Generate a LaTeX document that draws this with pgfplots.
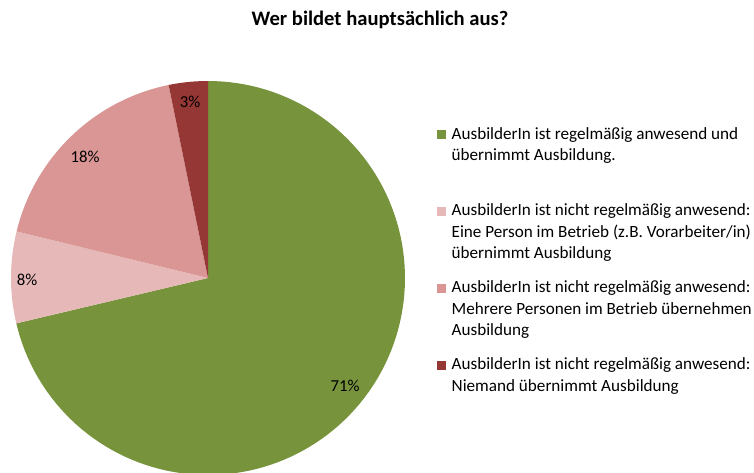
\documentclass[border=0pt]{standalone}
\usepackage{pgfplots}
\usepackage{pgfplotstable}
\pgfplotsset{compat=1.18}
\usepgfplotslibrary{polar}
\usepackage{fontspec}
\setmainfont{Carlito}
\definecolor{cGreen}{HTML}{77933C}
\definecolor{cLight}{HTML}{E6B9B8}
\definecolor{cMid}{HTML}{D99694}
\definecolor{cDark}{HTML}{953735}

\pgfplotstableread{
value
71.3
7.5
18.0
3.2
}\piedata

\pgfplotstablegetelem{0}{value}\of\piedata \let\vA\pgfplotsretval
\pgfplotstablegetelem{1}{value}\of\piedata \let\vB\pgfplotsretval
\pgfplotstablegetelem{2}{value}\of\piedata \let\vC\pgfplotsretval
\pgfplotstablegetelem{3}{value}\of\piedata \let\vD\pgfplotsretval
\pgfmathsetmacro\aA{90-3.6*\vA}
\pgfmathsetmacro\aB{\aA-3.6*\vB}
\pgfmathsetmacro\aC{\aB-3.6*\vC}
\pgfmathsetmacro\aD{\aC-3.6*\vD}

\newcommand\lfont{\fontsize{17.2}{20}\selectfont}
\newcommand\pfont{\fontsize{16.8}{20}\selectfont}

\begin{document}
\begin{tikzpicture}
\useasboundingbox (0,0) rectangle (754bp,473bp);
\clip (0,0) rectangle (754bp,473bp);
\begin{axis}[x=1bp,y=1bp,xmin=-208,xmax=546,ymin=-195,ymax=278,
  hide axis, at={(0,0)}, anchor=south west, clip=true]
\addplot[fill=cGreen, draw=none, data cs=polar, domain=\aA:90, samples=120] (x,197) -- (0,0) -- cycle;
\addplot[fill=cLight, draw=none, data cs=polar, domain=\aB:\aA, samples=30] (x,197) -- (0,0) -- cycle;
\addplot[fill=cMid, draw=none, data cs=polar, domain=\aC:\aB, samples=60] (x,197) -- (0,0) -- cycle;
\addplot[fill=cDark, draw=none, data cs=polar, domain=\aD:\aC, samples=20] (x,197) -- (0,0) -- cycle;

% slice labels
\node[font=\pfont] at (137,-108) {71\%};
\node[font=\pfont] at (-123,121.3) {18\%};
\node[font=\pfont] at (-181,-1.7) {8\%};
\node[font=\pfont] at (-18,176.3) {3\%};

% title
\node[font=\fontsize{20.7}{24}\selectfont\bfseries, anchor=base] at (172,252) {Wer bildet hauptsächlich aus?};

% legend
\fill[cGreen] (229,138.5) rectangle (238,147.5);
\node[font=\lfont, anchor=base west, inner sep=0] at (243.5,138.5) {AusbilderIn ist regelmäßig anwesend und};
\node[font=\lfont, anchor=base west, inner sep=0] at (243.5,117) {übernimmt Ausbildung.};

\fill[cLight] (229,62) rectangle (238,71);
\node[font=\lfont, anchor=base west, inner sep=0] at (243.5,62) {AusbilderIn ist nicht regelmäßig anwesend:};
\node[font=\lfont, anchor=base west, inner sep=0] at (243.5,40.5) {Eine Person im Betrieb (z.B. Vorarbeiter/in)};
\node[font=\lfont, anchor=base west, inner sep=0] at (243.5,19) {übernimmt Ausbildung};

\fill[cMid] (229,-14.7) rectangle (238,-5.7);
\node[font=\lfont, anchor=base west, inner sep=0] at (243.5,-14.7) {AusbilderIn ist nicht regelmäßig anwesend:};
\node[font=\lfont, anchor=base west, inner sep=0] at (243.5,-36.2) {Mehrere Personen im Betrieb übernehmen};
\node[font=\lfont, anchor=base west, inner sep=0] at (243.5,-57.7) {Ausbildung};

\fill[cDark] (229,-92) rectangle (238,-83);
\node[font=\lfont, anchor=base west, inner sep=0] at (243.5,-92) {AusbilderIn ist nicht regelmäßig anwesend:};
\node[font=\lfont, anchor=base west, inner sep=0] at (243.5,-113.5) {Niemand übernimmt Ausbildung};
\end{axis}
\end{tikzpicture}
\end{document}
